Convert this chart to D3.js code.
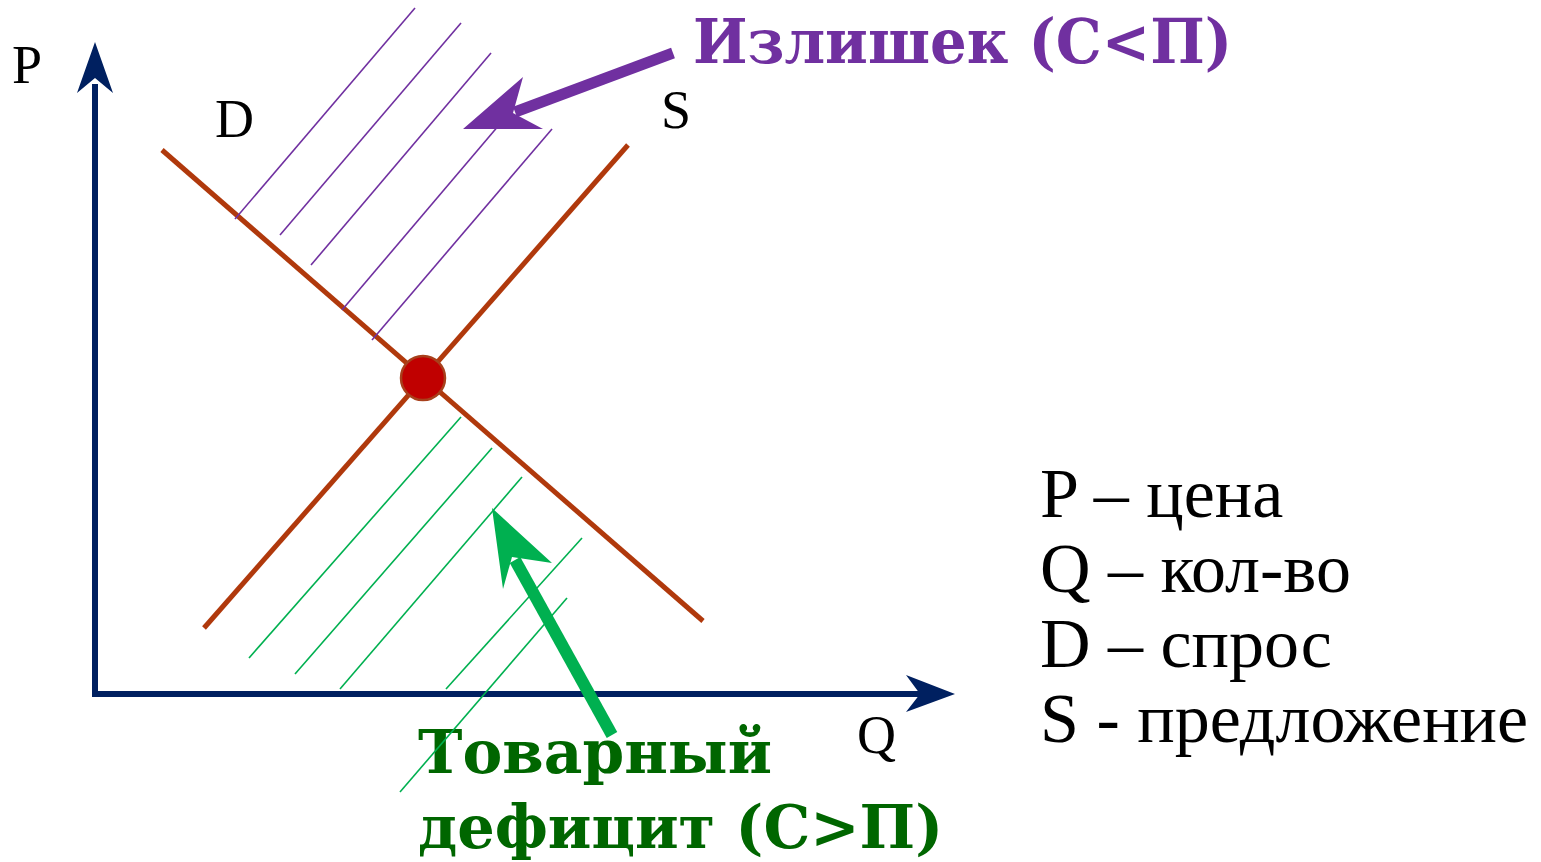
<!DOCTYPE html>
<html>
<head>
<meta charset="utf-8">
<script src="https://cdn.jsdelivr.net/npm/d3@7"></script>
<style>
  body { margin: 0; background: #fff; }
  .lbl { font-family: "Liberation Serif", "Times New Roman", serif; fill: #000; }
  .big { font-family: "DejaVu Serif", serif; font-weight: bold; }
</style>
</head>
<body>
<svg id="chart" width="1541" height="862"></svg>
<script>
// Chart data (Q = quantity, P = price, abstract units)
var demandLine = [[6.7, 54.4], [60.8, 7.3]];
var supplyLine = [[10.9, 6.6], [53.3, 54.9]];
var equilibrium = [32.8, 31.6];

// hatch lines of the surplus zone (above equilibrium)
var surplusHatch = [
    [[32.0, 68.6], [14.0, 47.5]],
    [[36.6, 67.1], [18.5, 45.9]],
    [[39.6, 64.1], [21.6, 42.9]],
    [[41.0, 57.6], [24.7, 38.4]],
    [[45.7, 56.5], [27.7, 35.4]]
];
// hatch lines of the shortage zone (below equilibrium)
var shortageHatch = [
    [[36.6, 27.7], [15.4, 3.6]],
    [[39.7, 24.6], [20.0, 2.0]],
    [[42.7, 21.7], [24.5, 0.5]],
    [[48.7, 15.6], [35.1, 0.5]],
    [[47.2, 9.6], [30.5, -9.8]]
];

// pointer arrows: shaft (tail, end), head (tip, barb, notch, barb)
var surplusArrow = {
    shaft: [[57.8, 64.1], [42.0, 58.2]],
    head: [[36.8, 56.5], [42.8, 61.7], [41.8, 58.1], [44.8, 56.5]]
};
var shortageArrow = {
    shaft: [[51.7, -4.1], [42.0, 13.4]],
    head: [[39.7, 18.6], [45.7, 13.1], [41.7, 13.7], [40.8, 10.5]]
};

// axes (line, arrow head)
var axisP = { line: [[0, -0.3], [0, 61.0]], head: [[0, 65.2], [-1.8, 60.1], [0, 61.6], [1.8, 60.1]] };
var axisQ = { line: [[-0.3, 0], [82.5, 0]], head: [[86.0, 0], [81.1, 1.9], [82.5, 0], [81.1, -1.8]] };

var legendLines = ["P – цена", "Q – кол-во", "D – спрос", "S - предложение"];

// Scales
var svg = d3.select("#chart");
var x = d3.scaleLinear().domain([0, 86]).range([95, 955]);
var y = d3.scaleLinear().domain([0, 65.2]).range([694, 42]);

var line = d3.line().x(function(d) { return x(d[0]); }).y(function(d) { return y(d[1]); });
var poly = function(pts) { return line(pts) + "Z"; };

// Axes
var axisColor = "#002060";
[axisP, axisQ].forEach(function(a) {
    svg.append("path").attr("d", line(a.line))
        .attr("stroke", axisColor).attr("stroke-width", 6).attr("fill", "none");
    svg.append("path").attr("d", poly(a.head)).attr("fill", axisColor);
});

// Labels
svg.append("text").attr("class", "lbl").attr("x", 12).attr("y", 83).attr("font-size", 54).text("P");
svg.append("text").attr("class", "lbl").attr("x", 857).attr("y", 753).attr("font-size", 54).text("Q");
svg.append("text").attr("class", "lbl").attr("x", 215).attr("y", 137).attr("font-size", 54).text("D");
svg.append("text").attr("class", "lbl").attr("x", 661).attr("y", 128).attr("font-size", 54).text("S");

// Legend
svg.selectAll(".legend").data(legendLines).enter().append("text")
    .attr("class", "lbl legend")
    .attr("x", 1040)
    .attr("y", function(d, i) { return 517 + i * 75; })
    .attr("font-size", 70)
    .text(function(d) { return d; });

// Annotation titles
svg.append("text").attr("class", "big").attr("x", 693).attr("y", 63)
    .attr("font-size", 62).attr("fill", "#7030a0")
    .attr("textLength", 539).attr("lengthAdjust", "spacingAndGlyphs")
    .text("Излишек (С<П)");
svg.append("text").attr("class", "big").attr("x", 418).attr("y", 773)
    .attr("font-size", 60).attr("fill", "#006600")
    .attr("textLength", 354).attr("lengthAdjust", "spacingAndGlyphs")
    .text("Товарный");
svg.append("text").attr("class", "big").attr("x", 418).attr("y", 848)
    .attr("font-size", 60).attr("fill", "#006600")
    .attr("textLength", 525).attr("lengthAdjust", "spacingAndGlyphs")
    .text("дефицит (С>П)");

// Demand and supply curves
var curveColor = "#b0390c";
[demandLine, supplyLine].forEach(function(d) {
    svg.append("path").attr("d", line(d))
        .attr("stroke", curveColor).attr("stroke-width", 5).attr("fill", "none");
});

// Hatching
svg.selectAll(".surplus").data(surplusHatch).enter().append("path")
    .attr("class", "surplus")
    .attr("d", line)
    .attr("stroke", "#7030a0").attr("stroke-width", 1.6).attr("fill", "none");
svg.selectAll(".shortage").data(shortageHatch).enter().append("path")
    .attr("class", "shortage")
    .attr("d", line)
    .attr("stroke", "#00b050").attr("stroke-width", 1.6).attr("fill", "none");

// Arrows
function drawArrow(a, color, w) {
    svg.append("path").attr("d", line(a.shaft))
        .attr("stroke", color).attr("stroke-width", w).attr("fill", "none");
    svg.append("path").attr("d", poly(a.head)).attr("fill", color);
}
drawArrow(surplusArrow, "#7030a0", 11);
drawArrow(shortageArrow, "#00b050", 12);

// Equilibrium point
svg.append("circle")
    .attr("cx", x(equilibrium[0])).attr("cy", y(equilibrium[1]))
    .attr("r", 22)
    .attr("fill", "#c00000").attr("stroke", "#a8401c").attr("stroke-width", 2.5);
</script>
</body>
</html>
